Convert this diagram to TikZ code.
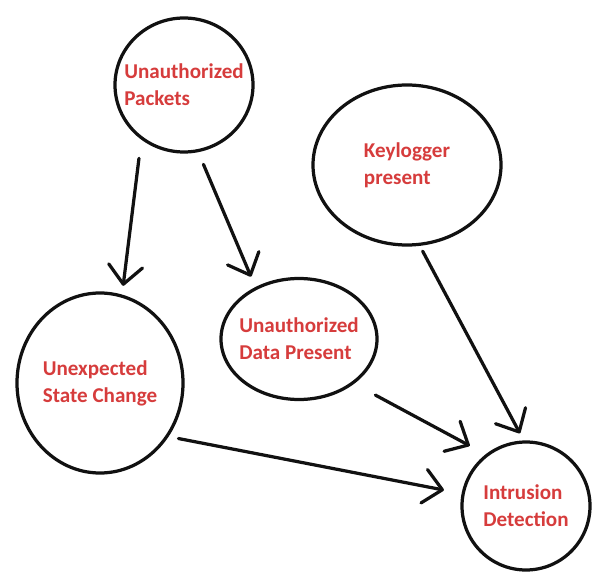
\documentclass[tikz,border=0pt]{standalone}
\usepackage{fontspec}
\setsansfont{Carlito}
\usetikzlibrary{arrows.meta, shapes.geometric}
\definecolor{cred}{HTML}{D63C3C}
\definecolor{cink}{HTML}{111111}
\tikzset{
  every picture/.style={font=\sffamily\bfseries, line width=2.3pt},
  event/.style={ellipse, draw=cink, text=cred, align=left, inner sep=-12pt, font=\sffamily\bfseries\fontsize{15}{19.2}\selectfont},
  arrow/.style={-{Straight Barb[length=4.6mm, width=8.5mm, round]}, draw=cink, line cap=round},
}

\begin{document}
\begin{tikzpicture}
  \useasboundingbox (0,0) rectangle (14.875,-14.3);
  % events
  \node[event, minimum width=3.45cm, minimum height=3.35cm] (pkts) at (4.6,-2.125) {Unauthorized\\Packets};
  \node[event, minimum width=4.7cm, minimum height=4.0cm] (keylog) at (10.175,-4.125) {Keylogger\\present};
  \node[event, minimum width=4.15cm, minimum height=4.5cm] (state) at (2.5,-9.575) {Unexpected\\State Change};
  \node[event, minimum width=3.9cm, minimum height=3.025cm] (data) at (7.475,-8.475) {Unauthorized\\Data Present};
  \node[event, minimum width=3.2cm, minimum height=3.2cm] (ids) at (13.15,-12.65) {Intrusion\\Detection};
  % causes
  \draw[arrow, shorten <=0.47cm, shorten >=0.22cm] (pkts.232) -- (state.76);
  \draw[arrow, shorten <=0.33cm, shorten >=0.28cm] (pkts.282) -- (data.130);
  \draw[arrow, shorten <=0.15cm, shorten >=0.2cm] (keylog.279) -- (ids.92);
  \draw[arrow, shorten <=0.6cm, shorten >=0.45cm] (data.321) -- (ids.128);
  \draw[arrow, shorten <=0.25cm, shorten >=0.45cm] (state.322) -- (ids.169);
\end{tikzpicture}
\end{document}
